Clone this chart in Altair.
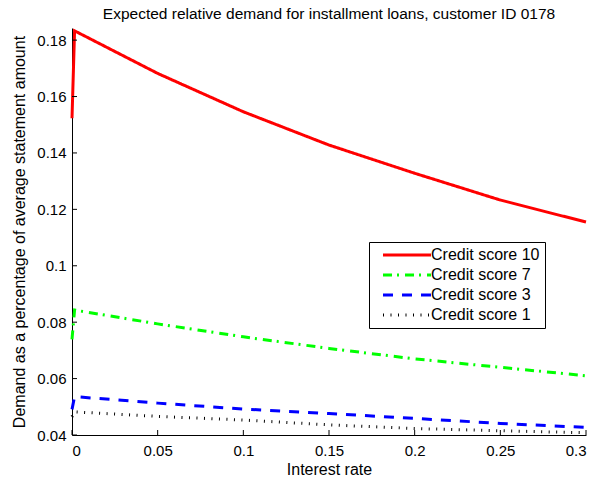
import altair as alt
import pandas as pd

# ---- data ----
rates = [0.0, 0.0015, 0.05, 0.10, 0.15, 0.20, 0.25, 0.30]
score10 = [0.1523, 0.1833, 0.1682, 0.1546, 0.1428, 0.1328, 0.1233, 0.1155]
score7 = [0.0739, 0.0843, 0.0794, 0.0748, 0.0707, 0.0670, 0.0640, 0.0610]
score3 = [0.0491, 0.0536, 0.0513, 0.0492, 0.0476, 0.0459, 0.0441, 0.0427]
score1 = [0.0465, 0.0482, 0.0466, 0.0453, 0.0436, 0.0423, 0.0415, 0.0408]

series_names = ["Credit score 10", "Credit score 7", "Credit score 3", "Credit score 1"]
series_values = [score10, score7, score3, score1]
colors = ["#ff0000", "#00ff00", "#0000ff", "#000000"]
dashes = [[1, 0], [9, 5, 2, 6], [10, 9], [1, 6.5]]

x_ticks = [0, 0.05, 0.1, 0.15, 0.2, 0.25, 0.3]
y_ticks = [0.04, 0.06, 0.08, 0.1, 0.12, 0.14, 0.16, 0.18]

title_text = "Expected relative demand for installment loans, customer ID 0178"
x_title = "Interest rate"
y_title = "Demand as a percentage of average statement amount"

rows = []
for name, vals in zip(series_names, series_values):
    for i, (r, v) in enumerate(zip(rates, vals)):
        rows.append({"rate": r, "demand": v, "series": name, "idx": i})
df = pd.DataFrame(rows)

W, H = 514, 407
FONT = "Liberation Sans"
xscale = alt.Scale(domain=[0, 0.3], nice=False, zero=False)
yscale = alt.Scale(domain=[0.04, 0.1843], nice=False, zero=False)

lines = alt.Chart(df).mark_line(strokeWidth=3, strokeCap="butt").encode(
    x=alt.X("rate:Q", scale=xscale,
            axis=alt.Axis(values=x_ticks, format=".2~f", title=x_title,
                          tickSize=0, labelPadding=8, titlePadding=3, grid=False)),
    y=alt.Y("demand:Q", scale=yscale,
            axis=alt.Axis(values=y_ticks, format=".2~f", title=y_title,
                          tickSize=0, labelPadding=6, titlePadding=9, grid=False)),
    color=alt.Color("series:N", scale=alt.Scale(domain=series_names, range=colors),
                    legend=alt.Legend(title=None)),
    strokeDash=alt.StrokeDash("series:N", scale=alt.Scale(domain=series_names, range=dashes),
                              legend=alt.Legend(title=None)),
    order="idx:Q",
)

xt = pd.DataFrame({"t": x_ticks})
yt = pd.DataFrame({"t": y_ticks})

xtick_rules = alt.Chart(xt).mark_rule(color="black", strokeWidth=1).encode(
    x=alt.X("t:Q", scale=xscale), y=alt.value(H), y2=alt.value(H - 5))
ytick_rules = alt.Chart(yt).mark_rule(color="black", strokeWidth=1).encode(
    y=alt.Y("t:Q", scale=yscale), x=alt.value(0), x2=alt.value(5))

chart = alt.layer(lines, xtick_rules, ytick_rules).properties(
    width=W, height=H,
    title=alt.TitleParams(title_text, font=FONT, fontSize=15.5, fontWeight="normal",
                          color="black", anchor="middle", offset=2),
    autosize=alt.AutoSizeParams(type="none"),
    padding={"left": 64, "top": 20, "right": 3, "bottom": 41},
).configure_view(stroke=None).configure_axis(
    labelFont=FONT, labelFontSize=15, labelColor="black",
    titleFont=FONT, titleFontSize=16, titleFontWeight="normal", titleColor="black",
    domainColor="black", domainWidth=1,
).configure_legend(
    orient="none", legendX=297, legendY=214,
    fillColor="white", strokeColor="black", padding=5,
    labelFont=FONT, labelFontSize=16, labelColor="black",
    symbolType="M-4,0H4", symbolSize=144, symbolStrokeWidth=3,
    symbolOffset=25, labelOffset=16, rowPadding=4, cornerRadius=0,
)

chart.save("out.html", embed_options={"renderer": "svg", "actions": False})
